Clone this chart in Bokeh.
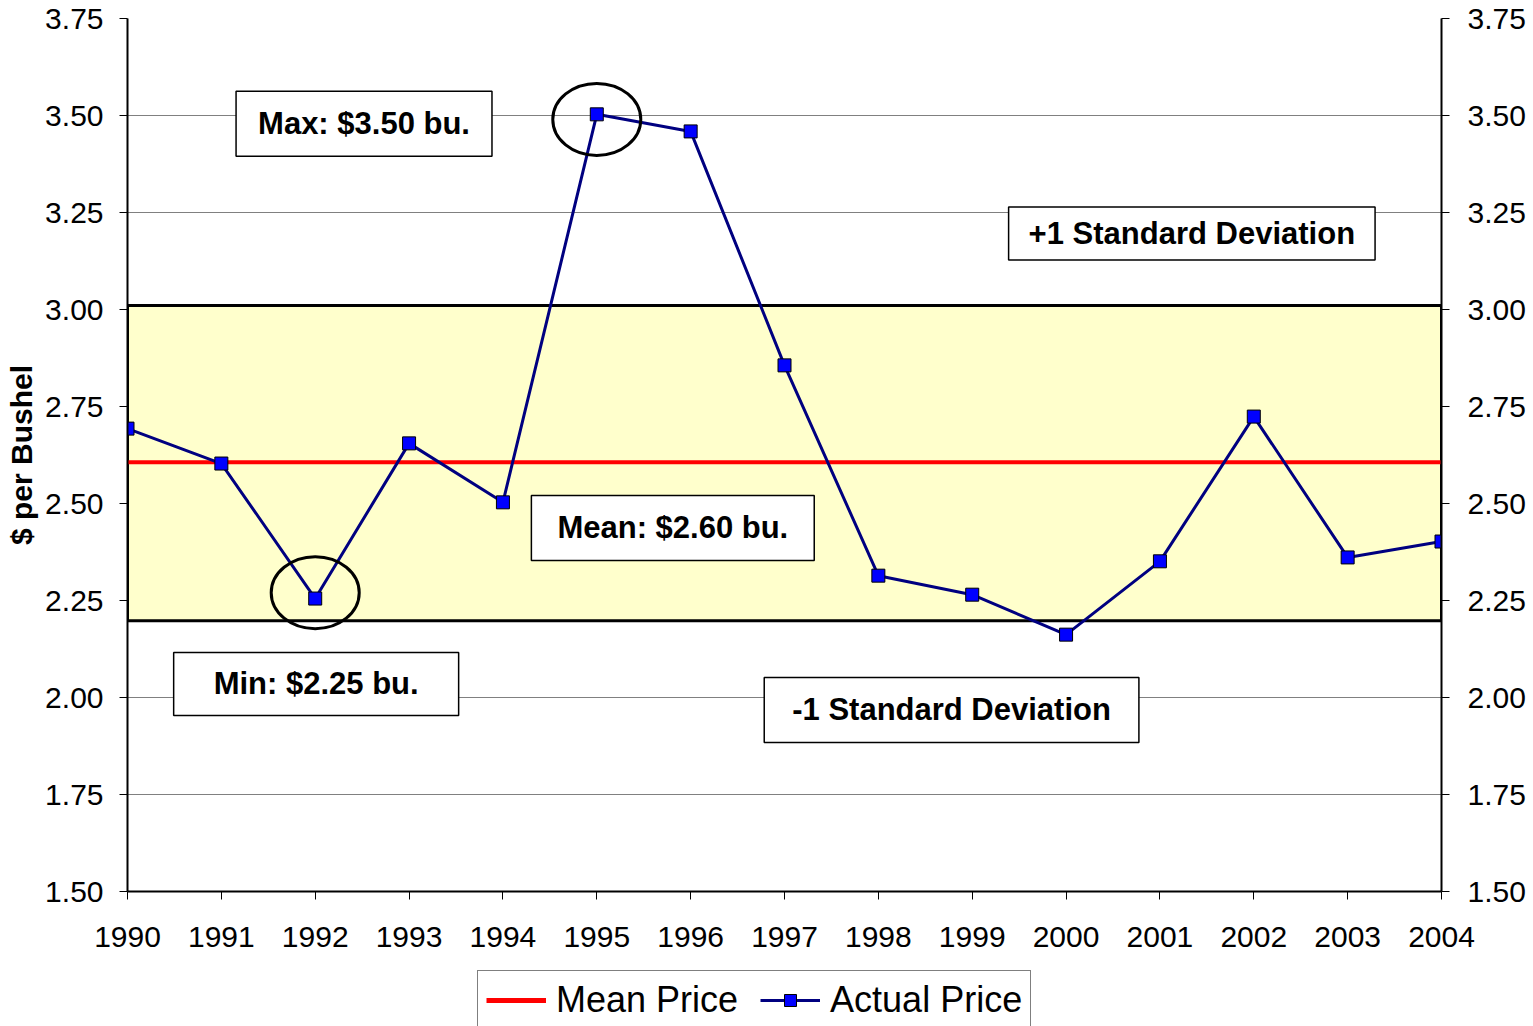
from bokeh.plotting import figure
from bokeh.layouts import column
from bokeh.models import (LinearAxis, FixedTicker, Range1d, Label, Legend, LegendItem)
from bokeh.embed import file_html
from bokeh.resources import INLINE

# ---- data ----
years = [1990, 1991, 1992, 1993, 1994, 1995, 1996, 1997, 1998, 1999, 2000, 2001, 2002, 2003, 2004]
actual_price = [2.693, 2.603, 2.255, 2.655, 2.503, 3.503, 3.459, 2.856, 2.314, 2.265, 2.162, 2.351, 2.724, 2.361, 2.402]
mean_price = 2.606
sd_upper = 3.01
sd_lower = 2.198
y_ticks = [1.50, 1.75, 2.00, 2.25, 2.50, 2.75, 3.00, 3.25, 3.50, 3.75]
y_tick_labels = ["1.50", "1.75", "2.00", "2.25", "2.50", "2.75", "3.00", "3.25", "3.50", "3.75"]
x_tick_labels = [str(y) for y in years]
series_names = ["Mean Price", "Actual Price"]

# annotations (text, x, y, padding (horizontal, vertical))
notes = [
    ("Max: $3.50 bu.", 1992.52, 3.479, (22, 15)),
    ("+1 Standard Deviation", 2001.34, 3.196, (20, 9)),
    ("Mean: $2.60 bu.", 1995.81, 2.437, (26, 15)),
    ("Min: $2.25 bu.", 1992.01, 2.035, (40, 14)),
    ("-1 Standard Deviation", 1998.78, 1.968, (28, 15)),
]
circle_x = [1992, 1995]
circle_y = [2.27, 3.49]

FONT = "Liberation Sans"
MEAN_STYLE = dict(line_color="#FF0000", line_width=4)
LINE_STYLE = dict(line_color="#000080", line_width=3)
PT_STYLE = dict(marker="square", size=13, fill_color="#0000FF", line_color="black", line_width=1)

p = figure(frame_width=1314, frame_height=873,
           min_border_left=127, min_border_right=89, min_border_top=18, min_border_bottom=79,
           x_range=Range1d(years[0], years[-1]), y_range=Range1d(y_ticks[0], y_ticks[-1]),
           output_backend="svg", toolbar_location=None)
p.background_fill_color = "white"
p.border_fill_color = "white"
p.outline_line_color = None

# band (+/- 1 SD)
p.quad(left=[years[0]], right=[years[-1]], bottom=[sd_lower], top=[sd_upper],
       fill_color="#FFFFCC", line_color="black", line_width=3)

p.line(x=[years[0], years[-1]], y=[mean_price, mean_price], **MEAN_STYLE)
p.line(x=years, y=actual_price, **LINE_STYLE)
p.scatter(x=years, y=actual_price, **PT_STYLE)

p.ellipse(x=circle_x, y=circle_y, width=88, height=72, width_units="screen", height_units="screen",
          fill_color=None, line_color="black", line_width=3)

# axes
yt = FixedTicker(ticks=y_ticks)
overrides_y = {t: l for t, l in zip(y_ticks, y_tick_labels)}
right = LinearAxis(ticker=yt)
p.add_layout(right, "right")
for ax in [p.yaxis[0], right]:
    ax.ticker = yt
    ax.major_label_overrides = overrides_y
    ax.major_tick_out = 8
    ax.major_tick_in = 0
    ax.minor_tick_line_color = None
    ax.axis_line_width = 2
    ax.axis_line_color = "black"
    ax.major_tick_line_color = "black"
    ax.major_label_text_font = FONT
    ax.major_label_text_font_size = "30px"
    ax.major_label_text_color = "black"
    ax.major_label_standoff = 16
right.major_label_standoff = 18

p.yaxis[0].axis_label = "$ per Bushel"
p.yaxis[0].axis_label_text_font = FONT
p.yaxis[0].axis_label_text_font_size = "30px"
p.yaxis[0].axis_label_text_font_style = "bold"
p.yaxis[0].axis_label_text_color = "black"
p.yaxis[0].axis_label_standoff = 4

xa = p.xaxis[0]
xa.ticker = FixedTicker(ticks=years)
xa.major_label_overrides = {y: l for y, l in zip(years, x_tick_labels)}
xa.major_tick_out = 8
xa.major_tick_in = 0
xa.minor_tick_line_color = None
xa.axis_line_width = 2
xa.axis_line_color = "black"
xa.major_label_text_font = FONT
xa.major_label_text_font_size = "30px"
xa.major_label_text_color = "black"
xa.major_label_standoff = 27

p.xgrid.grid_line_color = None
p.ygrid.ticker = yt
p.ygrid.grid_line_color = "#808080"
p.ygrid.grid_line_width = 1

for text, x, y, pad in notes:
    p.add_layout(Label(x=x, y=y, text=text, text_font=FONT, text_font_style="bold",
                       text_font_size="31px", text_align="center", text_baseline="middle",
                       text_color="black", background_fill_color="white",
                       border_line_color="black", border_line_width=1.5, padding=pad))

# ---- legend strip below the chart ----
lg = figure(width=1530, height=56, x_range=Range1d(0, 1), y_range=Range1d(0, 1),
            min_border=0, x_axis_location=None, y_axis_location=None,
            output_backend="svg", toolbar_location=None)
lg.outline_line_color = None
lg.grid.grid_line_color = None
lg.background_fill_color = "white"
lg.border_fill_color = "white"
# legend proxies drawn from the same series (they fall outside this strip's ranges)
m_r = lg.line(x=[years[0], years[-1]], y=[mean_price, mean_price], line_color="#FF0000", line_width=5)
a_l = lg.line(x=years, y=actual_price, **LINE_STYLE)
a_p = lg.scatter(x=years, y=actual_price, **PT_STYLE)

legend = Legend(items=[LegendItem(label=series_names[0], renderers=[m_r]),
                       LegendItem(label=series_names[1], renderers=[a_l, a_p])],
                orientation="horizontal", location=(350, -4),
                glyph_width=60, glyph_height=30, label_text_font=FONT, label_text_font_size="36px",
                label_text_color="black", border_line_color="black", border_line_width=1,
                background_fill_color="white", background_fill_alpha=1,
                padding=8, spacing=22, label_standoff=10, margin=0)
lg.add_layout(legend)

layout = column(p, lg, spacing=0)
open("out.html", "w").write(file_html(layout, INLINE))
